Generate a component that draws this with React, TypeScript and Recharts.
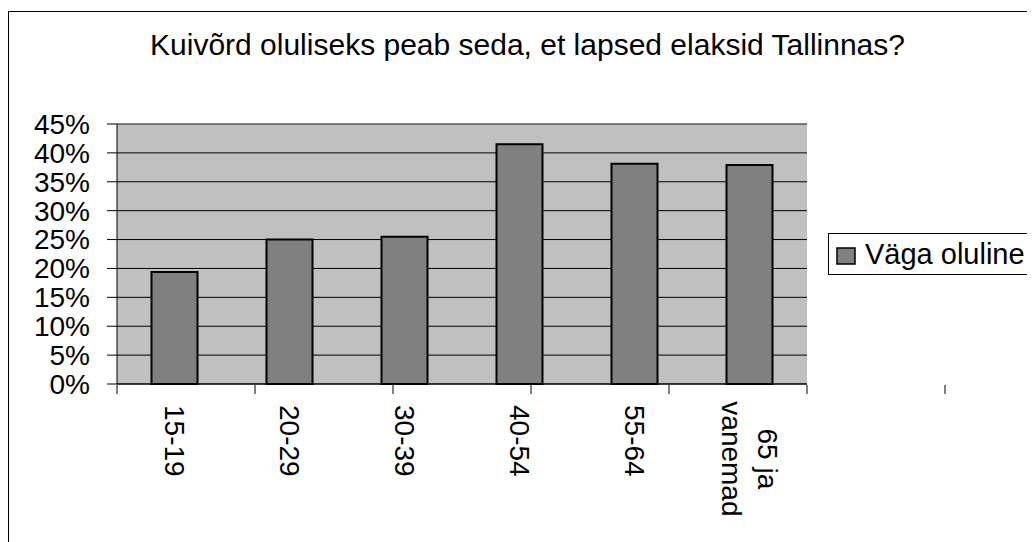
import React from 'react';
import {
  BarChart,
  Bar,
  XAxis,
  YAxis,
  CartesianGrid,
  Legend,
  ReferenceLine,
} from 'recharts';

const categories = ['15-19', '20-29', '30-39', '40-54', '55-64', '65 ja\nvanemad'];
const values = [19.4, 25.0, 25.5, 41.5, 38.1, 37.9];
const yTicks = [0, 5, 10, 15, 20, 25, 30, 35, 40, 45];
const edgeTicks = [0, 1, 2, 3, 4, 5, 6];
const seriesName = 'Väga oluline';
const title = 'Kuivõrd oluliseks peab seda, et lapsed elaksid Tallinnas?';

const FONT = '"Liberation Sans", Arial, sans-serif';

const data = categories.map((cat, i) => ({ cat, value: values[i] }));

// pööratud kategooriasildid (ülevalt alla loetav)
const CategoryTick = (props: any) => {
  const { x, y, payload } = props;
  const lines = String(payload.value).split('\n');
  const top = y + 13;
  if (lines.length === 1) {
    return (
      <g transform={`translate(${x},${top})`}>
        <text
          transform="rotate(90)"
          textAnchor="start"
          dominantBaseline="central"
          fontSize={28}
          fontFamily={FONT}
          fill="#000"
        >
          {lines[0]}
        </text>
      </g>
    );
  }
  const longest = Math.max(...lines.map(l => l.length));
  const mid = longest * 0.55 * 28 / 2;
  return (
    <g transform={`translate(${x},${top + mid})`}>
      <text transform="rotate(90)" textAnchor="middle" fontSize={28} fontFamily={FONT} fill="#000">
        {lines.map((l, i) => (
          <tspan key={i} x={0} y={(i - (lines.length - 1) / 2) * 36 + 10}>
            {l}
          </tspan>
        ))}
      </text>
    </g>
  );
};

// kategooriate piiride kriipsud
const EdgeTick = (props: any) => {
  const { x, y, payload } = props;
  if (!edgeTicks.includes(payload?.value)) return <g />;
  return <line x1={x} x2={x} y1={y} y2={y + 9} stroke="#000" strokeWidth={1} />;
};

const LegendBox = () => (
  <svg width={220} height={42} style={{ display: 'block' }}>
    <rect x={0.5} y={0.5} width={240} height={41} fill="#fff" stroke="#000" strokeWidth={1} />
    <rect x={9} y={15} width={18} height={16} fill="#808080" stroke="#000" strokeWidth={1.5} />
    <text x={37} y={31} fontSize={29} fontFamily={FONT} fill="#000">
      {seriesName}
    </text>
  </svg>
);

export default function App() {
  return (
    <div style={{ position: 'relative', width: 1027, height: 534, overflow: 'hidden', fontFamily: FONT }}>
      <div
        style={{
          position: 'absolute',
          left: 0,
          top: 3,
          width: 1100,
          height: 600,
          border: '1px solid #000',
          boxSizing: 'border-box',
        }}
      />
      <div
        style={{
          position: 'absolute',
          left: 0,
          top: 23,
          width: 1039,
          textAlign: 'center',
          fontSize: 30,
          lineHeight: '28px',
          color: '#000',
        }}
      >
        {title}
      </div>
      <div style={{ position: 'absolute', left: 0, top: 0 }}>
        <BarChart
          width={1027}
          height={534}
          data={data}
          margin={{ top: 116, right: 8, bottom: 0, left: 0 }}
          barCategoryGap="30%"
        >
          <CartesianGrid
            vertical={false}
            horizontal
            stroke="#000"
            fill="#C0C0C0"
            fillOpacity={1}
          />
          <XAxis
            xAxisId="cat"
            dataKey="cat"
            height={1}
            axisLine={{ stroke: '#000' }}
            tickLine={false}
            interval={0}
            tick={<CategoryTick />}
          />
          <XAxis
            xAxisId="edge"
            type="number"
            domain={[0, 6]}
            ticks={edgeTicks}
            interval={0}
            allowDataOverflow
            height={157}
            tick={<EdgeTick />}
            tickSize={0}
            tickMargin={0}
            axisLine={false}
            tickLine={false}
          />
          <YAxis
            domain={[0, 45]}
            ticks={yTicks}
            interval={0}
            width={109}
            tickSize={10}
            tickMargin={17}
            tickFormatter={(v: number) => `${v}%`}
            tick={{ fill: '#000', fontSize: 28, fontFamily: FONT }}
            axisLine={{ stroke: '#000' }}
            tickLine={{ stroke: '#000' }}
          />
          <ReferenceLine y={45} xAxisId="cat" stroke="#808080" />
          <ReferenceLine x={6} xAxisId="edge" stroke="#808080" />
          <Legend
            layout="vertical"
            align="right"
            verticalAlign="middle"
            content={<LegendBox />}
            wrapperStyle={{ left: 820, top: 225, width: 220, height: 42 }}
          />
          <Bar
            xAxisId="cat"
            dataKey="value"
            name={seriesName}
            fill="#808080"
            stroke="#000"
            strokeWidth={2}
            isAnimationActive={false}
          />
        </BarChart>
      </div>
    </div>
  );
}
